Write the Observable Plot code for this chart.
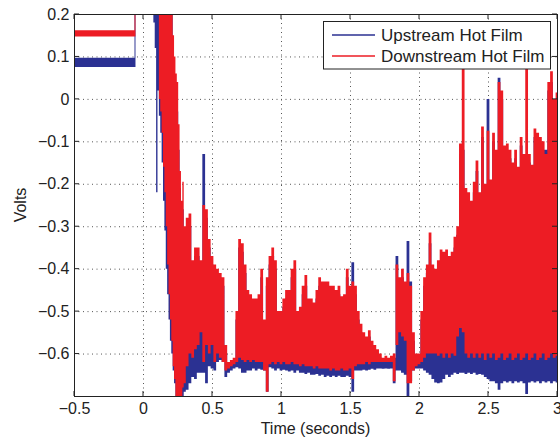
<!DOCTYPE html>
<html>
<head>
<meta charset="utf-8">
<script src="https://cdn.jsdelivr.net/npm/d3@7"></script>
<script src="https://cdn.jsdelivr.net/npm/@observablehq/plot@0.6"></script>
<style>
  html, body { margin: 0; padding: 0; background: #fff; }
  #chart { width: 560px; height: 440px; position: relative; }
</style>
</head>
<body>
<div id="chart"></div>
<script>
// ---- data (volts vs. seconds), envelope of the sampled signals ----
const times = [
  -0.5, -0.065, -0.058, -0.051,
  0.06, 0.07, 0.08, 0.09, 0.10, 0.11, 0.12, 0.13, 0.14, 0.15,
  0.16, 0.17, 0.18, 0.19, 0.20, 0.21, 0.22, 0.23, 0.24, 0.25,
  0.26, 0.27, 0.28, 0.29, 0.30,
  0.32, 0.34, 0.36, 0.38, 0.40, 0.42, 0.44, 0.46, 0.48, 0.50,
  0.52, 0.54, 0.56, 0.58, 0.60, 0.62, 0.64, 0.66, 0.68, 0.70,
  0.72, 0.74, 0.76, 0.78, 0.80, 0.82, 0.84, 0.86, 0.88, 0.90,
  0.92, 0.94, 0.96, 0.98, 1.00, 1.02, 1.04, 1.06, 1.08, 1.10,
  1.12, 1.14, 1.16, 1.18, 1.20, 1.22, 1.24, 1.26, 1.28, 1.30,
  1.32, 1.34, 1.36, 1.38, 1.40, 1.42, 1.44, 1.46, 1.48, 1.50,
  1.52, 1.54, 1.56, 1.58, 1.60, 1.62, 1.64, 1.66, 1.68, 1.70,
  1.72, 1.74, 1.76, 1.78, 1.80, 1.82, 1.84, 1.86, 1.88, 1.90,
  1.92, 1.94, 1.96, 1.98, 2.00, 2.02, 2.04, 2.06, 2.08, 2.10,
  2.12, 2.14, 2.16, 2.18, 2.20, 2.22, 2.24, 2.26, 2.28, 2.30,
  2.32, 2.34, 2.36, 2.38, 2.40, 2.42, 2.44, 2.46, 2.48, 2.50,
  2.52, 2.54, 2.56, 2.58, 2.60, 2.62, 2.64, 2.66, 2.68, 2.70,
  2.72, 2.74, 2.76, 2.78, 2.80, 2.82, 2.84, 2.86, 2.88, 2.90,
  2.92, 2.94, 2.96, 2.98, 3.00
];

// Downstream hot film (red): lower / upper envelope
const downstreamLow = [
  0.147, 0.147, 0.147, 0.4,
  0.4, 0.4, 0.4, 0.4, 0.4, 0.35, 0.0, -0.03, -0.08, -0.16,
  -0.22, -0.30, -0.39, -0.46, -0.52, -0.57, -0.63, -0.66, -0.70, -0.72,
  -0.72, -0.72, -0.70, -0.68, -0.67,
  -0.63, -0.60, -0.61, -0.59, -0.58, -0.55, -0.62, -0.58, -0.60, -0.58,
  -0.62, -0.60, -0.61, -0.62, -0.64, -0.635, -0.63, -0.625, -0.62, -0.61,
  -0.615, -0.62, -0.615, -0.62, -0.615, -0.62, -0.62, -0.62, -0.64, -0.69,
  -0.625, -0.62, -0.625, -0.62, -0.625, -0.62, -0.625, -0.625, -0.62, -0.625,
  -0.625, -0.63, -0.625, -0.63, -0.63, -0.63, -0.635, -0.63, -0.635, -0.635,
  -0.635, -0.635, -0.64, -0.635, -0.64, -0.64, -0.635, -0.64, -0.64, -0.635,
  -0.66, -0.63, -0.625, -0.625, -0.625, -0.62, -0.625, -0.62, -0.62, -0.62,
  -0.62, -0.62, -0.62, -0.62, -0.62, -0.665, -0.58, -0.55, -0.56, -0.57,
  -0.67, -0.67, -0.64, -0.63, -0.625, -0.62, -0.61, -0.60, -0.60, -0.60,
  -0.60, -0.605, -0.60, -0.61, -0.60, -0.61, -0.60, -0.605, -0.56, -0.54,
  -0.55, -0.60, -0.61, -0.60, -0.61, -0.60, -0.61, -0.60, -0.615, -0.60,
  -0.61, -0.60, -0.615, -0.61, -0.60, -0.615, -0.61, -0.60, -0.615, -0.61,
  -0.60, -0.615, -0.61, -0.60, -0.615, -0.61, -0.60, -0.615, -0.61, -0.60,
  -0.615, -0.61, -0.60, -0.61, -0.605
];
const downstreamHigh = [
  0.162, 0.162, 0.4, 0.4,
  0.4, 0.4, 0.4, 0.4, 0.4, 0.4, 0.4, 0.4, 0.4, 0.4,
  0.4, 0.4, 0.4, 0.4, 0.4, 0.4, 0.15, 0.10, 0.06, 0.04,
  -0.06, -0.17, -0.24, -0.195, -0.30,
  -0.28, -0.27, -0.38, -0.35, -0.35, -0.38, -0.25, -0.26, -0.33, -0.37,
  -0.39, -0.40, -0.41, -0.42, -0.58, -0.62, -0.615, -0.61, -0.50, -0.33,
  -0.34, -0.39, -0.45, -0.46, -0.47, -0.47, -0.46, -0.40, -0.52, -0.42,
  -0.37, -0.35, -0.38, -0.50, -0.50, -0.47, -0.45, -0.45, -0.40, -0.38,
  -0.50, -0.49, -0.44, -0.415, -0.47, -0.47, -0.48, -0.45, -0.42, -0.43,
  -0.43, -0.43, -0.44, -0.44, -0.45, -0.44, -0.465, -0.46, -0.40, -0.44,
  -0.43, -0.44, -0.50, -0.53, -0.55, -0.56, -0.545, -0.57, -0.58, -0.59,
  -0.60, -0.61, -0.605, -0.61, -0.605, -0.60, -0.39, -0.42, -0.40, -0.43,
  -0.41, -0.44, -0.55, -0.60, -0.60, -0.50, -0.42, -0.39, -0.315, -0.39,
  -0.40, -0.38, -0.355, -0.36, -0.355, -0.37, -0.36, -0.325, -0.30, -0.105,
  0.18, -0.21, -0.22, -0.24, -0.195, -0.145, -0.22, -0.065, -0.20, -0.075,
  -0.19, -0.08, -0.12, 0.04, 0.02, -0.11, -0.105, -0.12, -0.15, -0.12,
  -0.16, -0.09, -0.13, 0.18, -0.13, -0.155, -0.07, -0.08, -0.09, -0.10,
  -0.13, 0.04, 0.065, 0.0, 0.015
];

// Upstream hot film (blue): lower / upper envelope
const upstreamLow = [
  0.075, 0.075, 0.075, 0.4,
  0.4, 0.4, 0.18, 0.12, -0.22, 0.02, -0.04, -0.08, -0.15, -0.24,
  -0.31, -0.40, -0.46, -0.52, -0.57, -0.60, -0.64, -0.67, -0.71, -0.72,
  -0.72, -0.72, -0.72, -0.72, -0.69,
  -0.685, -0.67, -0.655, -0.66, -0.645, -0.645, -0.645, -0.67, -0.63, -0.635,
  -0.64, -0.62, -0.615, -0.62, -0.655, -0.645, -0.64, -0.635, -0.632, -0.635,
  -0.645, -0.645, -0.64, -0.64, -0.635, -0.64, -0.636, -0.638, -0.64, -0.69,
  -0.632, -0.635, -0.64, -0.635, -0.64, -0.638, -0.64, -0.642, -0.64, -0.645,
  -0.64, -0.645, -0.645, -0.648, -0.645, -0.65, -0.65, -0.648, -0.652, -0.65,
  -0.655, -0.652, -0.655, -0.652, -0.655, -0.652, -0.655, -0.655, -0.652, -0.655,
  -0.69, -0.64, -0.64, -0.64, -0.638, -0.64, -0.638, -0.636, -0.638, -0.635,
  -0.635, -0.636, -0.635, -0.636, -0.635, -0.67, -0.64, -0.64, -0.645, -0.65,
  -0.70, -0.665, -0.64, -0.635, -0.635, -0.635, -0.64, -0.645, -0.65, -0.66,
  -0.668, -0.67, -0.668, -0.66, -0.65, -0.655, -0.65, -0.645, -0.648, -0.645,
  -0.645, -0.648, -0.645, -0.648, -0.645, -0.65, -0.648, -0.65, -0.655, -0.66,
  -0.665, -0.665, -0.67, -0.685, -0.67, -0.665, -0.668, -0.665, -0.67, -0.665,
  -0.668, -0.665, -0.67, -0.695, -0.668, -0.665, -0.668, -0.665, -0.67, -0.665,
  -0.668, -0.665, -0.67, -0.665, -0.668
];
const upstreamHigh = [
  0.097, 0.097, 0.4, 0.4,
  0.4, 0.4, 0.4, 0.4, 0.4, 0.4, 0.4, 0.4, 0.4, 0.4,
  0.4, 0.4, 0.4, 0.4, 0.35, 0.3, 0.1, 0.05, 0.0, -0.03,
  -0.12, -0.21, -0.27, -0.26, -0.33,
  -0.31, -0.30, -0.40, -0.37, -0.37, -0.40, -0.13, -0.28, -0.35, -0.39,
  -0.41, -0.42, -0.43, -0.44, -0.60, -0.63, -0.625, -0.62, -0.52, -0.35,
  -0.36, -0.41, -0.47, -0.48, -0.49, -0.49, -0.48, -0.42, -0.54, -0.44,
  -0.39, -0.37, -0.40, -0.52, -0.52, -0.49, -0.47, -0.47, -0.42, -0.40,
  -0.52, -0.51, -0.46, -0.44, -0.49, -0.49, -0.50, -0.47, -0.44, -0.45,
  -0.45, -0.45, -0.46, -0.46, -0.47, -0.46, -0.48, -0.48, -0.42, -0.46,
  -0.385, -0.46, -0.52, -0.55, -0.57, -0.58, -0.56, -0.59, -0.595, -0.60,
  -0.61, -0.615, -0.612, -0.615, -0.612, -0.61, -0.37, -0.44, -0.42, -0.45,
  -0.335, -0.43, -0.57, -0.61, -0.61, -0.52, -0.44, -0.41, -0.34, -0.41,
  -0.42, -0.40, -0.38, -0.38, -0.38, -0.39, -0.38, -0.35, -0.32, -0.13,
  -0.12, -0.23, -0.24, -0.26, -0.22, -0.17, -0.24, -0.09, -0.22, 0.0,
  -0.21, -0.10, -0.14, 0.05, 0.0, -0.13, -0.125, -0.14, -0.17, -0.14,
  -0.18, -0.11, -0.15, -0.15, -0.15, -0.175, -0.09, -0.10, -0.11, -0.12,
  -0.12, 0.02, 0.04, -0.02, -0.01
];

const seriesNames = ["Upstream Hot Film", "Downstream Hot Film"];
const xLabel = "Time (seconds)";
const yLabel = "Volts";
const xTicks = [-0.5, 0, 0.5, 1, 1.5, 2, 2.5, 3];
const yTicks = [-0.6, -0.5, -0.4, -0.3, -0.2, -0.1, 0, 0.1, 0.2];
const xDomain = [-0.5, 3];
const yDomain = [-0.7, 0.2];

(function () {
  const BLUE = "#2b3192";
  const RED = "#ed1c24";
  const FONT = "'Liberation Sans', Arial, Helvetica, sans-serif";
  const fmt = d => (d < 0 ? "\u2212" : "") + String(Math.abs(+d.toFixed(2)));

  const upRows = times.map((t, i) => ({t, lo: upstreamLow[i], hi: upstreamHigh[i]}));
  const downRows = times.map((t, i) => ({t, lo: downstreamLow[i], hi: downstreamHigh[i]}));

  const plot = Plot.plot({
    width: 560,
    height: 440,
    marginLeft: 74,
    marginRight: 3,
    marginTop: 14,
    marginBottom: 44,
    style: {fontFamily: FONT, fontSize: "16px", color: "#222", background: "#fff"},
    x: {domain: xDomain, ticks: xTicks, tickFormat: fmt, tickSize: 0, tickPadding: 6, label: null},
    y: {domain: yDomain, ticks: yTicks, tickFormat: fmt, tickSize: 0, tickPadding: 5, label: null},
    marks: [
      Plot.gridX(xTicks, {stroke: "#444", strokeOpacity: 0.9, strokeDasharray: "1,3.5"}),
      Plot.gridY(yTicks, {stroke: "#444", strokeOpacity: 0.9, strokeDasharray: "1,3.5"}),
      Plot.areaY(upRows, {x: "t", y1: "lo", y2: "hi", fill: BLUE, curve: "step", clip: true}),
      Plot.areaY(downRows, {x: "t", y1: "lo", y2: "hi", fill: RED, curve: "step", clip: true}),
      Plot.frame({stroke: "#222", strokeWidth: 1})
    ]
  });

  document.getElementById("chart").appendChild(plot);

  // inward tick marks on all four sides, placed with the plot's own scales
  const sx = plot.scale("x"), sy = plot.scale("y");
  const svg = d3.select(plot);
  const xL = sx.apply(xDomain[0]), xR = sx.apply(xDomain[1]);
  const yT = sy.apply(yDomain[1]), yB = sy.apply(yDomain[0]);
  const tl = 5;
  const g = svg.append("g").attr("stroke", "#222").attr("stroke-width", 1);
  xTicks.forEach(v => {
    const x = sx.apply(v);
    g.append("line").attr("x1", x).attr("x2", x).attr("y1", yB).attr("y2", yB - tl);
    g.append("line").attr("x1", x).attr("x2", x).attr("y1", yT).attr("y2", yT + tl);
  });
  yTicks.forEach(v => {
    const y = sy.apply(v);
    g.append("line").attr("y1", y).attr("y2", y).attr("x1", xL).attr("x2", xL + tl);
    g.append("line").attr("y1", y).attr("y2", y).attr("x1", xR).attr("x2", xR - tl);
  });

  // axis titles
  const tg = svg.append("g").attr("font-family", FONT).attr("font-size", 16).attr("fill", "#222").attr("text-anchor", "middle");
  tg.append("text").attr("x", (xL + xR) / 2).attr("y", 433.5).text(xLabel);
  const yc = (yT + yB) / 2;
  tg.append("text").attr("transform", `translate(25.5,${yc}) rotate(-90)`).text(yLabel);

  // legend box (north-east, inside axes)
  const lg = svg.append("g").attr("font-family", FONT).attr("font-size", 17).attr("text-anchor", "start");
  lg.append("rect").attr("x", 323.5).attr("y", 21.5).attr("width", 227).attr("height", 47.5)
    .attr("fill", "#fff").attr("stroke", "#222").attr("stroke-width", 1);
  [[BLUE, 35], [RED, 56]].forEach(([c, y], i) => {
    lg.append("line").attr("x1", 332).attr("x2", 375).attr("y1", y).attr("y2", y)
      .attr("stroke", c).attr("stroke-width", 1.5);
    lg.append("text").attr("x", 381).attr("y", y).attr("dy", "0.36em").attr("fill", "#222").text(seriesNames[i]);
  });
})();
</script>
</body>
</html>
